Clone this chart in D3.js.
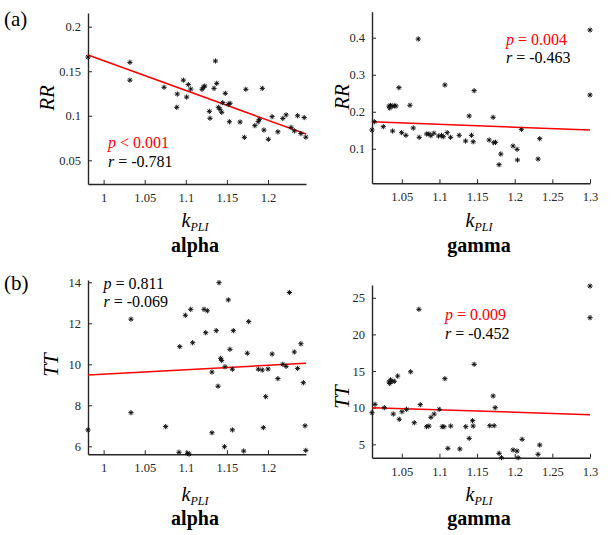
<!DOCTYPE html>
<html>
<head>
<meta charset="utf-8">
<script src="https://cdn.jsdelivr.net/npm/d3@7"></script>
<style>
  html, body { margin: 0; padding: 0; background: #fff; }
  svg { display: block; }
  svg text { font-family: "Liberation Serif", "Times New Roman", Times, "DejaVu Serif", serif !important; }
</style>
</head>
<body>
<svg id="chart" width="616" height="535"></svg>
<script>
// k_PLI vs RR / TT scatter data, one array of [k, value] pairs per panel
const alphaRR = [
  [0.981,0.166],[1.032,0.160],[1.032,0.140],[1.0735,0.132],[1.0896,0.1244],[1.089,0.1095],
  [1.097,0.140],[1.101,0.121],[1.103,0.135],[1.106,0.130],[1.1197,0.1297],[1.1213,0.132],
  [1.123,0.1334],[1.1286,0.105],[1.1294,0.0972],[1.1343,0.1308],[1.136,0.1615],[1.1376,0.1364],
  [1.1396,0.1095],[1.1416,0.1073],[1.1437,0.1039],[1.148,0.1252],[1.1449,0.1147],[1.1517,0.1129],
  [1.1538,0.114],[1.153,0.0933],[1.166,0.093],[1.1712,0.0758],[1.173,0.1297],[1.184,0.0889],
  [1.188,0.0933],[1.1894,0.096],[1.193,0.1308],[1.195,0.084],[1.2004,0.0736],[1.205,0.099],
  [1.212,0.082],[1.218,0.097],[1.222,0.101],[1.228,0.087],[1.232,0.083],[1.236,0.100],
  [1.240,0.080],[1.244,0.098],[1.246,0.076]
];
const gammaRR = [
  [1.0104,0.1507],[1.0135,0.173],[1.0254,0.1597],[1.033,0.215],[1.034,0.210],[1.035,0.217],
  [1.037,0.215],[1.040,0.216],[1.0378,0.148],[1.0422,0.2156],[1.0462,0.265],[1.0498,0.1435],
  [1.0555,0.1364],[1.0608,0.2175],[1.0652,0.1561],[1.0718,0.3965],[1.0731,0.131],[1.083,0.140],
  [1.086,0.140],[1.0886,0.1354],[1.0926,0.142],[1.0989,0.1345],[1.1028,0.1364],[1.105,0.1326],
  [1.1072,0.2723],[1.1103,0.1435],[1.1148,0.131],[1.1262,0.1364],[1.1347,0.121],[1.1395,0.1886],
  [1.1426,0.1364],[1.1448,0.119],[1.1461,0.2569],[1.166,0.1237],[1.1713,0.185],[1.1722,0.1165],
  [1.1745,0.1175],[1.1815,0.0859],[1.1792,0.057],[1.1978,0.1075],[1.2031,0.0986],[1.2036,0.0697],
  [1.2089,0.1526],[1.231,0.0724],[1.2332,0.1273],[1.3,0.4208],[1.3,0.2453]
];
const alphaTT = [
  [0.981,6.80],[1.0333,12.20],[1.0333,7.64],[1.0755,6.96],[1.0917,5.71],[1.0926,10.86],
  [1.0994,12.39],[1.1023,5.66],[1.104,5.62],[1.106,12.68],[1.1083,11.05],[1.1221,12.68],
  [1.1262,12.61],[1.1242,11.54],[1.1318,6.66],[1.1318,9.62],[1.137,11.64],[1.1392,8.93],
  [1.1404,13.98],[1.1424,10.29],[1.1436,10.18],[1.1477,9.88],[1.147,5.98],[1.1517,13.14],
  [1.1537,10.73],[1.1566,9.76],[1.1578,11.64],[1.1566,6.80],[1.1704,5.77],[1.1748,10.54],
  [1.1765,12.08],[1.1882,9.76],[1.193,9.72],[1.1943,6.91],[1.1972,8.42],[1.2,9.77],
  [1.205,10.5],[1.212,9.3],[1.218,10.0],[1.222,9.9],[1.226,13.5],[1.232,10.6],
  [1.236,9.8],[1.240,11.0],[1.243,9.1],[1.245,7.0],[1.246,5.8]
];
const gammaTT = [
  [1.0104,9.32],[1.0144,10.46],[1.0267,10.0],[1.033,13.5],[1.034,13.3],[1.035,13.8],
  [1.037,13.6],[1.040,13.6],[1.0387,9.14],[1.0445,14.32],[1.0466,8.42],[1.0502,9.45],
  [1.0564,9.78],[1.0617,14.9],[1.0665,7.95],[1.0727,23.42],[1.0745,10.41],[1.083,7.41],
  [1.086,7.5],[1.0887,8.69],[1.093,9.14],[1.0997,9.78],[1.1037,7.41],[1.106,7.41],
  [1.1072,13.96],[1.1112,4.46],[1.115,7.5],[1.1271,4.37],[1.135,7.41],[1.1395,5.82],
  [1.144,8.23],[1.1448,7.5],[1.1461,15.92],[1.1669,7.54],[1.1713,11.6],[1.1726,7.54],
  [1.174,10.0],[1.1792,3.78],[1.1824,3.18],[1.1978,4.23],[1.203,4.09],[1.2045,3.18],
  [1.2098,5.69],[1.231,3.64],[1.2332,4.91],[1.3,26.6],[1.3,22.28]
];

// least-squares fit lines: [[k0, v0], [k1, v1]]
const alphaRRFit = [[0.981, 0.1682], [1.2462, 0.0795]];
const gammaRRFit = [[1.0104, 0.173], [1.3, 0.1507]];
const alphaTTFit = [[0.981, 9.48], [1.2462, 10.05]];
const gammaTTFit = [[1.0104, 10.0], [1.3, 9.05]];

// statistics text
const alphaRRStats = { p: "< 0.001", r: "-0.781", sig: true };
const gammaRRStats = { p: "= 0.004", r: "-0.463", sig: true };
const alphaTTStats = { p: "= 0.811", r: "-0.069", sig: false };
const gammaTTStats = { p: "= 0.009", r: "-0.452", sig: true };

// axis limits and ticks
const alphaKDomain = [0.981, 1.2462];
const gammaKDomain = [1.0104, 1.3];
const alphaKTicks = [1, 1.05, 1.1, 1.15, 1.2];
const gammaKTicks = [1.05, 1.1, 1.15, 1.2, 1.25, 1.3];
const alphaKTickLabels = ["1", "1.05", "1.1", "1.15", "1.2"];
const gammaKTickLabels = ["1.05", "1.1", "1.15", "1.2", "1.25", "1.3"];
const alphaRRDomain = [0.0234, 0.2154];
const gammaRRDomain = [0.0068, 0.4702];
const alphaTTDomain = [5.61, 14.11];
const gammaTTDomain = [3.18, 26.74];
const alphaRRTicks = [0.05, 0.1, 0.15, 0.2];
const gammaRRTicks = [0.1, 0.2, 0.3, 0.4];
const alphaTTTicks = [6, 8, 10, 12, 14];
const gammaTTTicks = [5, 10, 15, 20, 25];

const bandNames = ["alpha", "gamma"];
const rowLetters = ["(a)", "(b)"];
const yNames = ["RR", "TT"];

const svg = d3.select("#chart");
const axisColor = "#262626";
const serif = "'Liberation Serif', 'Times New Roman', Times, 'DejaVu Serif', serif";

const panels = [
  { data: alphaRR, fit: alphaRRFit, stats: alphaRRStats, xDom: alphaKDomain, xTicks: alphaKTicks, xLabels: alphaKTickLabels,
    yDom: alphaRRDomain, yTicks: alphaRRTicks, x0: 88, x1: 306, yTop: 13, yBot: 184, yName: yNames[0], yLabX: 54, yLabY: 98,
    statX: 108, statY: 148, band: bandNames[0], kY: 227, bandY: 251.5 },
  { data: gammaRR, fit: gammaRRFit, stats: gammaRRStats, xDom: gammaKDomain, xTicks: gammaKTicks, xLabels: gammaKTickLabels,
    yDom: gammaRRDomain, yTicks: gammaRRTicks, x0: 372, x1: 590, yTop: 11.7, yBot: 183.3, yName: yNames[0], yLabX: 348.5, yLabY: 97,
    statX: 506, statY: 44.5, band: bandNames[1], kY: 227, bandY: 251.5 },
  { data: alphaTT, fit: alphaTTFit, stats: alphaTTStats, xDom: alphaKDomain, xTicks: alphaKTicks, xLabels: alphaKTickLabels,
    yDom: alphaTTDomain, yTicks: alphaTTTicks, x0: 88, x1: 306, yTop: 280, yBot: 454.3, yName: yNames[1], yLabX: 57.5, yLabY: 365,
    statX: 103.5, statY: 288.5, band: bandNames[0], kY: 500.5, bandY: 524.5 },
  { data: gammaTT, fit: gammaTTFit, stats: gammaTTStats, xDom: gammaKDomain, xTicks: gammaKTicks, xLabels: gammaKTickLabels,
    yDom: gammaTTDomain, yTicks: gammaTTTicks, x0: 372, x1: 590, yTop: 285, yBot: 457.7, yName: yNames[1], yLabX: 349, yLabY: 397,
    statX: 445, statY: 320, band: bandNames[1], kY: 500.5, bandY: 524.5 }
];

// asterisk marker
const star = "M-2.6,0H2.6M0,-2.6V2.6M-1.8,-1.8L1.8,1.8M-1.8,1.8L1.8,-1.8";

panels.forEach(p => {
  const x = d3.scaleLinear().domain(p.xDom).range([p.x0, p.x1]);
  const y = d3.scaleLinear().domain(p.yDom).range([p.yBot, p.yTop]);
  const g = svg.append("g").attr("font-family", serif);

  // x axis (ticks pointing inward)
  const xAxis = d3.axisBottom(x).tickValues(p.xTicks).tickSizeInner(-4).tickSizeOuter(0)
    .tickPadding(9).tickFormat((d, i) => p.xLabels[i]);
  const gx = g.append("g").attr("transform", `translate(0,${p.yBot})`).call(xAxis).attr("font-family", serif);
  gx.select(".domain").attr("stroke", axisColor).attr("stroke-width", 1.4);
  gx.selectAll(".tick line").attr("stroke", axisColor).attr("stroke-width", 1);
  gx.selectAll(".tick text").attr("fill", axisColor).attr("font-size", 12.5);

  // y axis
  const yAxis = d3.axisLeft(y).tickValues(p.yTicks).tickSizeInner(-4).tickSizeOuter(0)
    .tickPadding(7).tickFormat(d3.format("~g"));
  const gy = g.append("g").attr("transform", `translate(${p.x0},0)`).call(yAxis).attr("font-family", serif);
  gy.select(".domain").attr("stroke", axisColor).attr("stroke-width", 1.4);
  gy.selectAll(".tick line").attr("stroke", axisColor).attr("stroke-width", 1);
  gy.selectAll(".tick text").attr("fill", axisColor).attr("font-size", 12.5);

  // fit line
  g.append("path")
    .attr("d", d3.line().x(d => x(d[0])).y(d => y(d[1]))(p.fit))
    .attr("fill", "none").attr("stroke", "#ff0000").attr("stroke-width", 1.5);

  // points
  g.append("g").selectAll("path").data(p.data).join("path")
    .attr("transform", d => `translate(${x(d[0])},${y(d[1])})`)
    .attr("d", star).attr("stroke", "#111").attr("stroke-width", 1).attr("fill", "none");

  // y label
  g.append("text")
    .attr("transform", `translate(${p.yLabX},${p.yLabY}) rotate(-90)`)
    .attr("text-anchor", "middle").attr("font-size", 21).attr("font-style", "italic")
    .attr("fill", "#000").text(p.yName);

  // x label k_PLI
  const kl = g.append("text").attr("x", (p.x0 + p.x1) / 2 - 2).attr("y", p.kY)
    .attr("text-anchor", "middle").attr("fill", "#000").attr("font-style", "italic");
  kl.append("tspan").attr("font-size", 20).text("k");
  kl.append("tspan").attr("font-size", 12).attr("dy", 4).text("PLI");

  // band name
  g.append("text").attr("x", (p.x0 + p.x1) / 2 - 2).attr("y", p.bandY)
    .attr("text-anchor", "middle").attr("font-size", 20).attr("font-weight", "bold")
    .attr("fill", "#000").text(p.band);

  // statistics
  const pc = p.stats.sig ? "#ff0000" : "#000";
  const pt = g.append("text").attr("x", p.statX).attr("y", p.statY).attr("font-size", 16).attr("fill", pc);
  pt.append("tspan").attr("font-style", "italic").text("p");
  pt.append("tspan").text(" " + p.stats.p);
  const rt = g.append("text").attr("x", p.statX).attr("y", p.statY + 18.5).attr("font-size", 16).attr("fill", "#000");
  rt.append("tspan").attr("font-style", "italic").text("r");
  rt.append("tspan").text(" = " + p.stats.r);
});

// row letters
svg.append("text").attr("x", 4).attr("y", 26).attr("font-family", serif).attr("font-size", 21).attr("fill", "#000").text(rowLetters[0]);
svg.append("text").attr("x", 4).attr("y", 290).attr("font-family", serif).attr("font-size", 21).attr("fill", "#000").text(rowLetters[1]);
</script>
</body>
</html>
